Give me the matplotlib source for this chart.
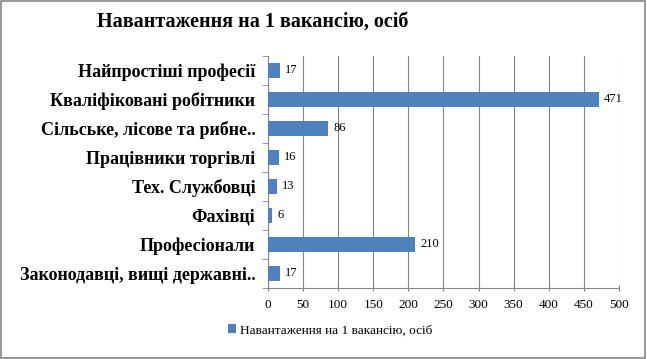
import matplotlib.pyplot as plt
import numpy as np

categories = [
    'Найпростіші професії',
    'Кваліфіковані робітники',
    'Сільське, лісове та рибне..',
    'Працівники торгівлі',
    'Тех. Службовці',
    'Фахівці',
    'Професіонали',
    'Законодавці, вищі державні..',
]
values = [17, 471, 86, 16, 13, 6, 210, 17]
series_name = 'Навантаження на 1 вакансію, осіб'
xticks = np.arange(0, 501, 50)

plt.rcParams['font.family'] = ['Liberation Serif', 'DejaVu Serif']

fig = plt.figure(figsize=(6.47, 3.59), dpi=100)
ax = fig.add_axes([0.4142, 0.198, 0.5425, 0.646])

pos = np.arange(len(categories))
ax.barh(pos, values, height=0.5, color='#4F81BD', zorder=3, label=series_name)
for p, v in zip(pos, values):
    ax.text(v + 7, p, str(v), va='center', ha='left', fontsize=9)

ax.set_ylim(len(categories) - 0.5, -0.5)
ax.set_xlim(0, 500)
ax.set_xticks(xticks)
ax.set_xticklabels([str(t) for t in xticks], fontsize=9.5)
ax.set_yticks(pos)
ax.set_yticklabels(categories, fontsize=13, fontweight='bold')
ax.set_yticks(np.arange(-0.5, len(categories), 1), minor=True)
ax.tick_params(axis='y', which='major', length=0, pad=9)
ax.tick_params(axis='y', which='minor', length=4, color='#868686')
ax.tick_params(axis='x', length=4, color='#868686', direction='inout', pad=6)

ax.grid(axis='x', color='#868686', linewidth=0.8, zorder=0)
for s in ['top', 'right']:
    ax.spines[s].set_visible(False)
ax.spines['left'].set_color('#868686')
ax.spines['bottom'].set_color('#868686')

fig.text(0.391, 0.94, 'Навантаження на 1 вакансію, осіб', fontsize=14.5,
         fontweight='bold', ha='center', va='center')

fig.legend(loc='center', bbox_to_anchor=(0.51, 0.08), frameon=False,
           fontsize=9.5, handlelength=0.6, handleheight=0.6, handletextpad=0.3)

fig.patches.append(plt.Rectangle((0.002, 0.003), 0.995, 0.994, transform=fig.transFigure,
                                 fill=False, edgecolor='#868686', linewidth=1.2))

fig.savefig('out.png', dpi=100)
